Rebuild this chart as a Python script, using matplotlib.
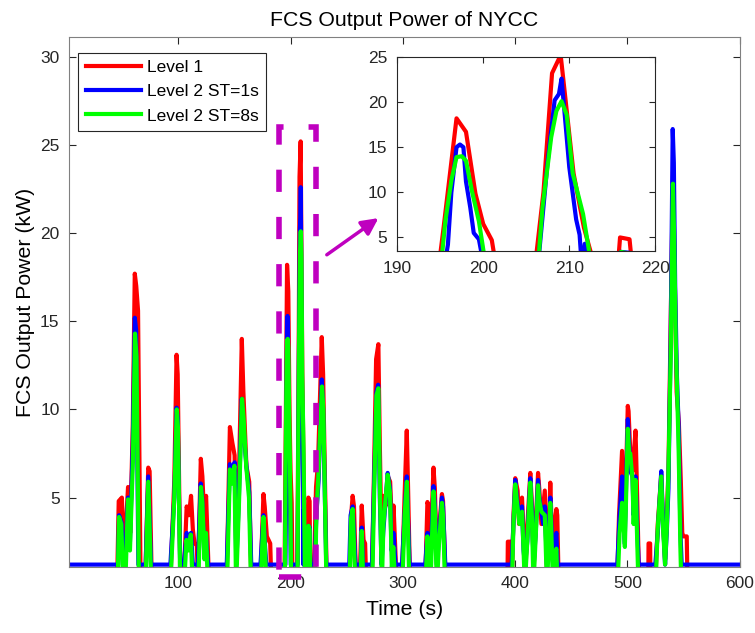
import numpy as np
import matplotlib
matplotlib.use('Agg')
import matplotlib.pyplot as plt
from matplotlib.patches import Rectangle

plt.rcParams['font.family'] = ['Liberation Sans', 'DejaVu Sans']

# (time s, power kW), one burst per line
red_pts = [
    (0, 0), (45.5, 0), (47, 4.8), (49.8, 5.0), (51.8, 1.5), (55.3, 5.6), (57.2, 3), (59.5, 9), (61.3, 17.7), (62.6, 17), (64.2, 15.6), (66.5, 0),
    (70.5, 0), (73.3, 6.7), (74.5, 6.5), (76.5, 0),
    (92.8, 0), (96.5, 6), (98.5, 13.1), (99.5, 12), (102, 0),
    (104.7, 0), (107.5, 4.5), (109.5, 4.0), (111.4, 5.1), (113, 3.2), (114.5, 2.4), (116.5, 2.3), (117.5, 0.5), (118.5, 3), (120.1, 7.2), (121.5, 6.2), (123, 4), (124.8, 5.1), (127.5, 0),
    (143, 0), (146, 9.0), (148.2, 8.1), (150.2, 7.4), (151.7, 1.8), (154, 6), (156.6, 14.0), (158, 11), (160.7, 6.8), (163.2, 5.9), (165.2, 0),
    (173, 0), (175.9, 5.2), (177, 4.5), (178.9, 2.8), (181.9, 2.4), (183, 0),
    (194.6, 0), (195.4, 6.1), (196.9, 18.2), (198.0, 16.7), (199.1, 9.85), (200.0, 6.5), (201.0, 4.7), (201.8, 0),
    (205.8, 0), (207.0, 10), (208.0, 23.2), (209.0, 25.2), (210.5, 12.1), (211.7, 6.1), (212.6, 3.0), (213.2, 0),
    (215.5, 0), (215.9, 5.0), (217.0, 4.8), (217.5, 0),
    (220.5, 0), (222.7, 5.6), (224.5, 7), (227.8, 14.1), (229, 12), (232.3, 0),
    (252.5, 0), (254, 4), (255.3, 5.1), (256.5, 4.5), (258.5, 0), (261.5, 0), (263.4, 4.55), (265, 2.6), (266.4, 2.4), (267.5, 0),
    (272.2, 0), (274.5, 7), (276.2, 12.85), (278.2, 13.7), (279.5, 8), (281.2, 1.8), (282.7, 5.1), (284.5, 4.5), (286.7, 6.2), (288.7, 5.9), (290.5, 3), (291.7, 4.55), (294.6, 0),
    (299, 0), (301.5, 5), (303.5, 8.8), (304.5, 6), (306.5, 0),
    (319.8, 0), (321.9, 4.75), (323, 4.5), (324.3, 1.6), (327.3, 6.7), (328.5, 5.5), (330.3, 1.5), (332, 3), (334.8, 5.2), (335.8, 4.8), (338.2, 0),
    (393.1, 0), (393.5, 2.5), (395.9, 2.5), (396.3, 0),
    (397, 0), (398.5, 4), (400.1, 6.1), (402.2, 5.4), (403.5, 3.5), (406.1, 5.0), (407.5, 3), (409, 0.5), (410.5, 3), (413.5, 6.4), (415, 4.5), (416.5, 1),
    (418, 3), (420.4, 6.4), (421.5, 5.5), (423.4, 3.5), (426.4, 5.4), (428.3, 1), (429.5, 2), (431.3, 5.85), (432.7, 3), (433.8, 1.5), (435, 3.5), (436.7, 4.35), (437.5, 4), (438.8, 0),
    (490.7, 0), (492.5, 4), (495.2, 7.65), (496.5, 5), (497.5, 3), (500.3, 10.2), (501, 9.9), (502.5, 7.6), (504.5, 6.5), (507.2, 8.8), (508.3, 6), (510.5, 0),
    (518.5, 0), (518.8, 2.4), (520.2, 2.4), (520.5, 0),
    (524.6, 0), (527, 3.5), (530.1, 6.3), (531.5, 3.8), (533.5, 1.5), (535, 4), (536.5, 6.5), (538.5, 15), (540.6, 23.5), (542, 18), (543.8, 11), (545.8, 9.2),
    (547.5, 6), (548.8, 3), (549.8, 2.8), (552.8, 2.8), (553.5, 0), (600, 0),
]

blue_pts = [
    (0, 1.2), (46.5, 1.2), (47.3, 4.0), (49.5, 3.6), (51, 1.2), (52.5, 1.2), (55.3, 5.0), (57, 2.5), (59.5, 8), (61.3, 15.2), (62.5, 14.5), (64.5, 1.2),
    (71, 1.2), (73.3, 6.2), (75.8, 1.2),
    (93, 1.2), (96.5, 5), (98.5, 10.1), (99.5, 9.5), (101.7, 1.2),
    (105, 1.2), (107.5, 3.0), (109, 2.5), (111.4, 3.0), (113, 1.2), (117.5, 1.2), (120, 5.8), (121.3, 5), (123, 2), (124.5, 3), (126.5, 1.2),
    (143.2, 1.2), (146, 6.9), (148, 6), (150.2, 7.0), (151.7, 1.2), (154, 5), (156.6, 10.6), (158, 9), (160.7, 6.8), (163.2, 5.3), (165, 1.2),
    (173.2, 1.2), (175.9, 4.0), (177.5, 2.0), (178.5, 1.2),
    (195.4, 1.2), (195.9, 4.2), (196.3, 10), (196.9, 15), (197.3, 15.3), (197.7, 15), (198.0, 11.2), (198.5, 8.3), (198.9, 5.5), (199.5, 4.8), (200.2, 1.2),
    (206.3, 1.2), (207.5, 13.5), (208.3, 20.2), (208.8, 20.9), (209.1, 22.6), (209.4, 19.4), (210.0, 12.8), (210.8, 7.0), (211.2, 5.3), (211.5, 1.2), (211.8, 4.3), (212.1, 1.2),
    (215.4, 1.2), (216, 3.4), (217, 3.3), (217.6, 1.2),
    (221.5, 1.2), (223, 4), (225, 6), (227.8, 11.7), (229, 10), (231.8, 1.2),
    (252.3, 1.2), (253.5, 4), (255.3, 4.5), (257.8, 1.2), (262.5, 1.2), (263.4, 3.3), (264.5, 1.2),
    (272.5, 1.2), (274.5, 6), (276.5, 11), (278, 11.4), (279.5, 5), (281, 1.2), (282.5, 3), (286.5, 6.4), (288.5, 5.5), (290, 2), (291.7, 3.0), (293.5, 1.2),
    (299.3, 1.2), (301.5, 4), (303.5, 6.2), (304.5, 4), (306, 1.2),
    (320, 1.2), (321.9, 3.0), (323.2, 1.2), (324.5, 1.2), (327.3, 5.65), (328.5, 4.5), (330.3, 1.2), (332, 2.5), (334.8, 5.0), (335.8, 4.5), (337.8, 1.2),
    (396.9, 1.2), (398.5, 3.5), (400.1, 6.0), (401.5, 5), (403.9, 3.9), (405, 3.5), (406.1, 4.5), (407.5, 2), (408.8, 1.2), (410.8, 2.5), (413.5, 6.1), (415, 4), (416.5, 1.2),
    (418.3, 3), (420.4, 6.0), (421.5, 5), (423.4, 4.2), (425, 3.5), (426.4, 4.5), (428.3, 1.2), (429.8, 2.5), (431.3, 5.0), (432.5, 3), (433.8, 1.2), (435.5, 2.5), (436.7, 3), (437.8, 1.2),
    (491, 1.2), (493, 4), (495.2, 6.2), (496.5, 4), (497.5, 2.4), (500.3, 9.45), (501.5, 8), (502.5, 6.5), (504.5, 6.2), (505.5, 4), (507.2, 6.2), (508.3, 4), (510, 1.2),
    (524.8, 1.2), (527, 3), (530.1, 6.5), (531.5, 4), (533.5, 1.2), (535, 3), (536.5, 5.5), (538.5, 14), (540.3, 25.9), (541.3, 24), (542.5, 17), (544, 12),
    (545.6, 9), (547.2, 3), (548.3, 1.2), (600, 1.2),
]

green_pts = [
    (0, 0), (46, 0), (47.3, 3.9), (49.3, 3.5), (51, 0), (52.8, 0), (55.3, 4.9), (57, 2), (59.6, 7), (61.5, 14.3), (62.8, 13), (65, 0),
    (70.8, 0), (73.3, 5.9), (76, 0),
    (93, 0), (96.5, 5), (98.7, 10.0), (99.7, 9), (101.8, 0),
    (105.2, 0), (107.3, 2.6), (109, 2.0), (111.2, 2.9), (112.8, 0), (117.8, 0), (120.2, 5.6), (121.5, 4.7), (123.3, 1.5), (124.7, 3), (126.5, 0),
    (143.4, 0), (146, 6.6), (148, 5.8), (150, 6.8), (151.5, 0), (154, 4.5), (156.8, 10.6), (158.2, 9.5), (160.5, 6.8), (163, 5.0), (164.8, 0),
    (173.3, 0), (175.9, 3.9), (177.3, 2), (178.5, 0),
    (194.9, 0), (195.6, 6.8), (196.3, 11.3), (196.9, 13.9), (197.5, 14.0), (198.0, 13.5), (198.7, 10.1), (199.5, 6.8), (200.6, 0),
    (206.2, 0), (206.9, 8.4), (207.9, 16.1), (208.5, 19.0), (209.1, 20.1), (209.7, 18.6), (210.4, 12.1), (211.6, 7.6), (212.9, 0),
    (215.4, 0), (216, 3.4), (217, 3.2), (217.6, 0),
    (221.8, 0), (223, 4), (225, 6.5), (228, 11.3), (229.2, 10), (232, 0),
    (252.5, 0), (253.8, 3.8), (255.3, 4.35), (257.8, 0), (262.3, 0), (263.4, 3.1), (264.8, 0),
    (272.7, 0), (274.7, 6), (276.5, 10.8), (278.2, 11.2), (279.7, 5), (281.3, 0), (282.7, 3.5), (286.5, 6.3), (288.5, 5.3), (290.2, 1), (291.5, 2.2), (293.2, 0),
    (299.5, 0), (301.6, 4), (303.6, 5.9), (304.5, 3.5), (305.8, 0),
    (320.1, 0), (321.9, 2.8), (323.2, 0), (324.6, 0), (327.3, 5.35), (328.5, 4.2), (330.3, 0), (332, 2.2), (334.8, 4.7), (335.8, 4), (337.6, 0),
    (397.1, 0), (398.5, 3.5), (400.1, 5.75), (401.5, 4.8), (403.9, 3.5), (406.1, 4.2), (407.5, 2), (408.6, 0), (410.8, 2.5), (413.5, 5.85), (415, 3.8), (416.3, 0),
    (418.3, 2.8), (420.4, 5.7), (421.5, 4.8), (423.4, 4.2), (426.4, 4.0), (428.3, 0), (429.8, 2.2), (431.3, 4.7), (432.5, 2.5), (433.8, 0), (435.5, 1.8), (436.7, 2.1), (437.6, 0),
    (491.2, 0), (493, 3), (495.2, 4.7), (496.5, 3.5), (497.7, 2.2), (500.3, 8.9), (501.5, 7.5), (502.5, 7.5), (504.5, 6), (505.5, 3.5), (507.2, 6.0), (508.3, 3.5), (509.8, 0),
    (525, 0), (527, 3.3), (530.1, 6.2), (531.5, 3.5), (533.5, 1.2), (535, 3.2), (536.5, 6.4), (538.5, 13), (540.5, 22.8), (541.5, 20), (543, 14), (545.5, 8),
    (547.2, 2), (548, 0), (600, 0),
]

labels = ['Level 1', 'Level 2 ST=1s', 'Level 2 ST=8s']
colors = ['#ff0000', '#0000ff', '#00ff00']
series = [np.array(red_pts), np.array(blue_pts), np.array(green_pts)]

zoom_box = (190, 0.5, 33, 25.5)   # x, y, w, h of dashed box
magenta = '#bf00bf'
grey = '#262626'

fig = plt.figure(figsize=(7.55, 6.33), dpi=100)
ax = fig.add_axes([0.0918, 0.1047, 0.888, 0.8363])

for s, c, lab in zip(series, colors, labels):
    ax.plot(s[:, 0], s[:, 1], color=c, lw=3, label=lab)

ax.set_xlim(3, 600)
ax.set_ylim(1.08, 31.1)
ax.set_xticks([100, 200, 300, 400, 500, 600])
ax.set_yticks([5, 10, 15, 20, 25, 30])
ax.tick_params(direction='in', top=True, right=True, length=5, width=0.8,
               labelsize=12.5, colors=grey, pad=7)
for sp in ax.spines.values():
    sp.set_color('#808080')
    sp.set_linewidth(0.8)
ax.set_xlabel('Time (s)', fontsize=15.3, color='black', labelpad=6)
ax.set_ylabel('FCS Output Power (kW)', fontsize=15.3, color='black')
ax.set_title('FCS Output Power of NYCC', fontsize=15.3, color='black', pad=8)

leg = ax.legend(loc='upper left', bbox_to_anchor=(0.0134, 0.971), borderaxespad=0,
                fontsize=12.5, handlelength=3.2, handletextpad=0.35, labelspacing=0.52,
                borderpad=0.42, fancybox=False, framealpha=1)
leg.get_frame().set_edgecolor(grey)
leg.get_frame().set_linewidth(0.8)

rect = Rectangle(zoom_box[:2], zoom_box[2], zoom_box[3], fill=False, edgecolor=magenta,
                 lw=4, linestyle=(0, (4, 4.5)), clip_on=False, zorder=5)
ax.add_patch(rect)
ax.annotate('', xy=(278.3, 20.85), xytext=(232.3, 18.77),
            arrowprops=dict(arrowstyle='-|>', color=magenta, lw=2.5,
                            mutation_scale=25, shrinkA=0, shrinkB=0))

# inset
axi = fig.add_axes([0.526, 0.6035, 0.342, 0.3065])
for s, c in zip(series, colors):
    axi.plot(s[:, 0], s[:, 1], color=c, lw=3)
axi.set_xlim(190, 220)
axi.set_ylim(3.5, 25)
axi.set_xticks([190, 200, 210, 220])
axi.set_yticks([5, 10, 15, 20, 25])
axi.tick_params(direction='in', top=True, right=True, length=4, width=0.8,
                labelsize=12.5, colors=grey, pad=7)
for sp in axi.spines.values():
    sp.set_color(grey)
    sp.set_linewidth(0.8)

fig.savefig('out.png', dpi=100)
